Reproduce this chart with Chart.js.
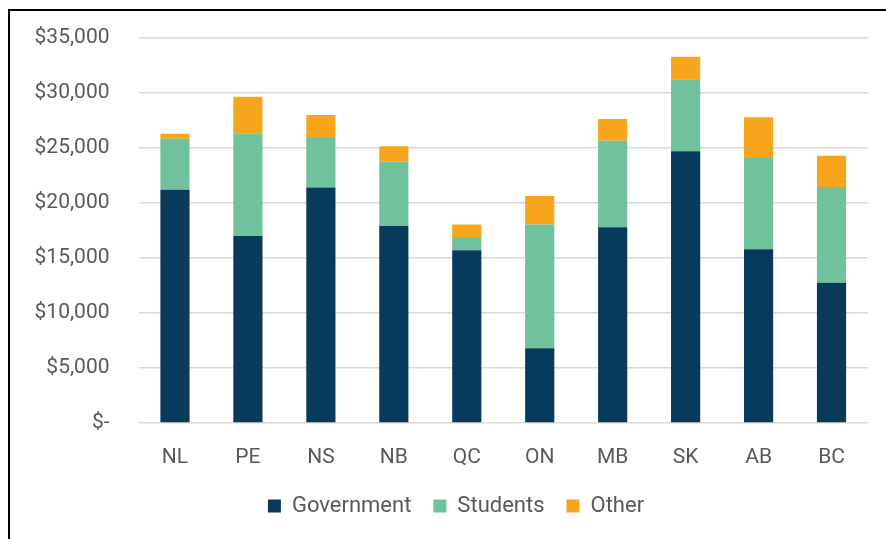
<!DOCTYPE html>
<html>
<head>
<meta charset="utf-8">
<script src="https://cdn.jsdelivr.net/npm/chart.js@4.4.1/dist/chart.umd.min.js"></script>
<style>
  html, body { margin: 0; padding: 0; background: #ffffff; }
  #wrap { position: absolute; left: 0; top: 0; width: 886px; height: 539px; }
  #frame { position: absolute; left: 8px; top: 9px; right: 0; bottom: 0;
           border-top: 2px solid #000; border-left: 2px solid #000; pointer-events: none; }
  canvas { position: absolute; left: 0; top: 0; }
</style>
</head>
<body>
<div id="wrap">
  <canvas id="chart" width="886" height="539"></canvas>
  <div id="frame"></div>
</div>
<script>
// Funding per province, stacked by source
const provinces = ['NL', 'PE', 'NS', 'NB', 'QC', 'ON', 'MB', 'SK', 'AB', 'BC'];
const government = [21200, 17000, 21400, 17900, 15700, 6800, 17800, 24700, 15800, 12750];
const students   = [4650, 9300, 4600, 5850, 1200, 11250, 7850, 6550, 8300, 8700];
const other      = [450, 3370, 2000, 1400, 1150, 2580, 1980, 2050, 3700, 2850];
const yTicks = [0, 5000, 10000, 15000, 20000, 25000, 30000, 35000];

const textColor = '#595959';
const fontFamily = 'Roboto, "Noto Sans", sans-serif';

function money(v) {
  if (v === 0) return '$-';
  return '$' + v.toLocaleString('en-US');
}

// Nudge the legend row to the right of the centred position
const legendShift = {
  id: 'legendShift',
  afterLayout(chart) {
    const lg = chart.legend;
    if (lg) { lg.left += 22; lg.right += 22; }
  }
};

new Chart(document.getElementById('chart'), {
  type: 'bar',
  data: {
    labels: provinces,
    datasets: [
      { label: 'Government', data: government, backgroundColor: '#073a5b' },
      { label: 'Students', data: students, backgroundColor: '#70c29c' },
      { label: 'Other', data: other, backgroundColor: '#f8a51e' }
    ]
  },
  plugins: [legendShift],
  options: {
    responsive: false,
    animation: false,
    layout: { padding: { left: 0, right: 18, top: 38, bottom: 12 } },
    datasets: { bar: { categoryPercentage: 0.8, barPercentage: 0.5, borderWidth: 0 } },
    plugins: {
      tooltip: { enabled: false },
      legend: {
        position: 'bottom',
        labels: {
          color: textColor,
          font: { family: fontFamily, size: 22 },
          boxWidth: 13,
          boxHeight: 13,
          padding: 22
        }
      }
    },
    scales: {
      x: {
        stacked: true,
        grid: { display: false, drawTicks: false },
        border: { display: false },
        ticks: { color: textColor, font: { family: fontFamily, size: 21 }, padding: 22 },
        afterFit: (s) => { s.height = 50; }
      },
      y: {
        stacked: true,
        min: 0,
        max: 35000,
        afterBuildTicks: (s) => { s.ticks = yTicks.map(v => ({ value: v })); },
        grid: { color: '#d9d9d9', lineWidth: 1.5, drawTicks: false },
        border: { display: false },
        ticks: {
          color: textColor,
          font: { family: fontFamily, size: 21 },
          padding: 29,
          callback: (v) => money(v)
        },
        afterFit: (s) => { s.width = 138.5; s.paddingTop = 0; s.paddingBottom = 0; }
      }
    }
  }
});
</script>
</body>
</html>
